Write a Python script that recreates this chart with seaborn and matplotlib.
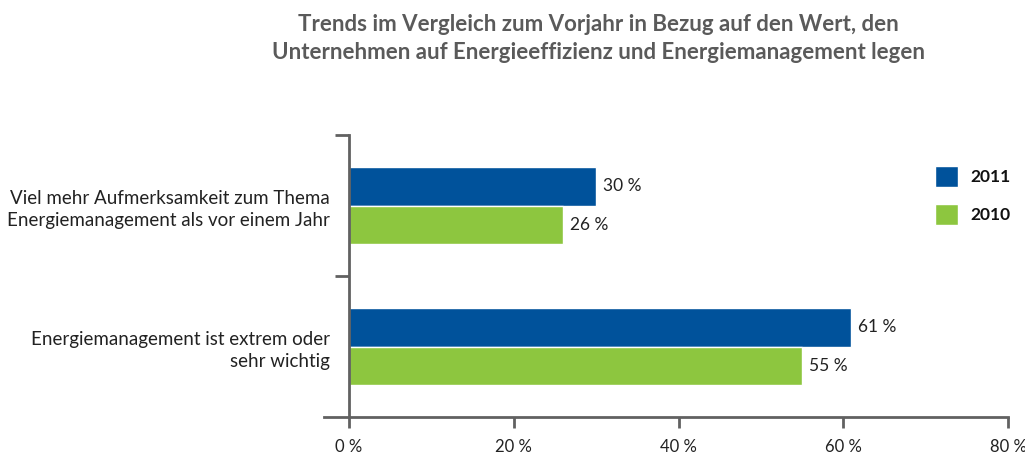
import pandas as pd
import matplotlib.pyplot as plt
import seaborn as sns
from matplotlib.ticker import FuncFormatter, FixedLocator

# Chart values
categories = [
    "Viel mehr Aufmerksamkeit zum Thema\nEnergiemanagement als vor einem Jahr",
    "Energiemanagement ist extrem oder\nsehr wichtig",
]
years = ["2011", "2010"]
values_2011 = [30, 61]
values_2010 = [26, 55]
x_ticks = [0, 20, 40, 60, 80]
title = ("Trends im Vergleich zum Vorjahr in Bezug auf den Wert, den\n"
         "Unternehmen auf Energieeffizienz und Energiemanagement legen")

df = pd.DataFrame({
    "Kategorie": categories * 2,
    "Jahr": [years[0]] * 2 + [years[1]] * 2,
    "Wert": values_2011 + values_2010,
})

sns.set_style("white")
plt.rcParams["font.family"] = ["Lato", "DejaVu Sans"]

axis_col = "#616161"
text_col = "#222222"
palette = {"2011": "#00529B", "2010": "#8DC63F"}

fig = plt.figure(figsize=(10.25, 4.58), dpi=100)
ax = fig.add_axes([0.3164, 0.0895, 0.667, 0.6157])

sns.barplot(data=df, y="Kategorie", x="Wert", hue="Jahr", hue_order=years,
            palette=palette, orient="h", width=0.54, saturation=1, ax=ax)

ax.set_xlim(-3, 80)
ax.set_ylim(1.5, -0.5)

# value labels next to bars
for cont in ax.containers:
    ax.bar_label(cont, labels=[f"{v:.0f} %" for v in cont.datavalues],
                 padding=5, fontsize=12.5, color=text_col)

# spines
for s in ["top", "right"]:
    ax.spines[s].set_visible(False)
ax.spines["left"].set_position(("data", 0))
for s in ["left", "bottom"]:
    ax.spines[s].set_color(axis_col)
    ax.spines[s].set_linewidth(2)

# x ticks
ax.xaxis.set_major_locator(FixedLocator(x_ticks))
ax.xaxis.set_major_formatter(FuncFormatter(lambda v, p: f"{v:.0f} %"))
ax.tick_params(axis="x", bottom=True, direction="out", length=8, width=2,
               color=axis_col, labelsize=12, labelcolor=text_col, pad=8)

# y: labels at category centres, tick marks at boundaries
ax.set_yticks([0, 1])
ax.set_yticklabels(categories, fontsize=13.5, color=text_col, linespacing=1.35)
ax.tick_params(axis="y", which="major", left=True, length=0, pad=14)
ax.set_yticks([-0.5, 0.5], minor=True)
ax.tick_params(axis="y", which="minor", left=True, direction="out", length=10,
               width=2, color=axis_col)
for lab in ax.get_yticklabels():
    lab.set_horizontalalignment("right")

ax.set_xlabel("")
ax.set_ylabel("")

# legend
leg = ax.legend(loc="upper left", bbox_to_anchor=(0.87, 0.945), frameon=False,
                handlelength=1.35, handleheight=1.45, handletextpad=0.7,
                labelspacing=1.0, fontsize=12.5)
for t in leg.get_texts():
    t.set_fontweight("bold")
    t.set_color("#111111")

fig.text(0.584, 0.97, title, ha="center", va="top", fontsize=16,
         fontweight="bold", color="#5a5a5a", linespacing=1.45)

plt.savefig("out.png", dpi=100)
